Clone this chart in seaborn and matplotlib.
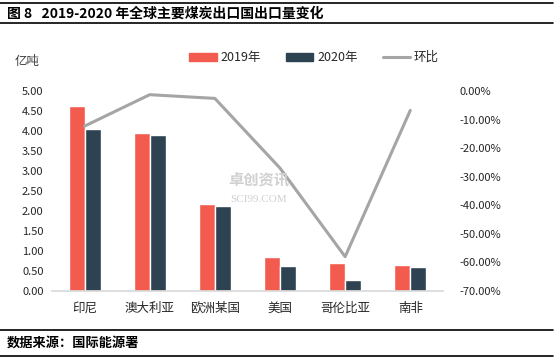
import numpy as np
import pandas as pd
import matplotlib
matplotlib.use("Agg")
import matplotlib.pyplot as plt
from matplotlib.lines import Line2D
from matplotlib.patches import Patch
import seaborn as sns

# data
countries = ["印尼", "澳大利亚", "欧洲某国", "美国", "哥伦比亚", "南非"]
exp_2019 = [4.62, 3.95, 2.18, 0.85, 0.70, 0.66]
exp_2020 = [4.05, 3.90, 2.12, 0.62, 0.28, 0.61]
mom_pct = [-12.3, -1.3, -2.6, -27.0, -58.0, -6.8]
left_ticks = [0, 0.5, 1, 1.5, 2, 2.5, 3, 3.5, 4, 4.5, 5]
right_ticks = [0, -10, -20, -30, -40, -50, -60, -70]

c19 = "#F35B4E"
c20 = "#2E4352"
cline = "#A5A5A5"

sns.set_theme(style="white")
plt.rcParams["font.family"] = ["Noto Sans CJK SC", "DejaVu Sans"]

df = pd.DataFrame({
    "country": countries * 2,
    "value": exp_2019 + exp_2020,
    "year": ["2019年"] * len(countries) + ["2020年"] * len(countries),
})

fig = plt.figure(figsize=(5.56, 3.61), dpi=100)
ax = fig.add_axes([0.0935, 0.194, 0.703, 0.554])

sns.barplot(data=df, x="country", y="value", hue="year", order=countries,
            palette=[c19, c20], width=0.49, ax=ax, legend=False,
            saturation=1, errorbar=None)
ax.set_ylim(0, 5)
ax.set_xlim(-0.5, len(countries) - 0.5)
ax.set_yticks(left_ticks)
ax.set_yticklabels([f"{t:.2f}" for t in left_ticks], fontsize=8)
ax.set_xlabel("")
ax.set_ylabel("")
ax.tick_params(axis="x", labelsize=9, length=0, pad=8)
ax.tick_params(axis="y", length=0, pad=6)
for s in ["top", "right", "left"]:
    ax.spines[s].set_visible(False)
ax.spines["bottom"].set_color("#D9D9D9")

ax2 = ax.twinx()
sns.lineplot(x=np.arange(len(countries)), y=mom_pct, ax=ax2, color=cline,
             linewidth=2.2, sort=False)
ax2.set_ylim(-70, 0)
ax2.set_yticks(right_ticks)
ax2.set_yticklabels([f"{t:.2f}%" for t in right_ticks], fontsize=8)
ax2.tick_params(axis="y", length=0, pad=12)
for s in ["top", "right", "left", "bottom"]:
    ax2.spines[s].set_visible(False)
ax2.set_xlim(-0.5, len(countries) - 0.5)

fig.text(0.027, 0.82, "亿吨", fontsize=9, color="#404040")

handles = [Patch(color=c19), Patch(color=c20), Line2D([], [], color=cline, lw=2.2)]
fig.legend(handles, ["2019年", "2020年", "环比"], loc="center", ncol=3,
           bbox_to_anchor=(0.565, 0.84), frameon=False, fontsize=9,
           handlelength=2.2, handleheight=0.6, columnspacing=2.0, handletextpad=0.3)

# watermark
fig.text(0.465, 0.49, "卓创资讯", fontsize=11, color="#D0D0D0", ha="center", weight="bold")
fig.text(0.465, 0.44, "SCI99.COM", fontsize=8, color="#D0D0D0", ha="center",
         family="Liberation Serif")

# report-style caption and source lines
for y in [0.992, 0.935, 0.087, 0.015]:
    fig.add_artist(Line2D([0.0, 0.995], [y, y], color="black", lw=1.2,
                          transform=fig.transFigure))
fig.text(0.012, 0.962, "图 8   2019-2020 年全球主要煤炭出口国出口量变化", fontsize=10,
         weight="bold", va="center", color="black")
fig.text(0.012, 0.052, "数据来源：国际能源署", fontsize=9.5, weight="bold",
         va="center", color="black")

fig.savefig("out.png", dpi=100)
